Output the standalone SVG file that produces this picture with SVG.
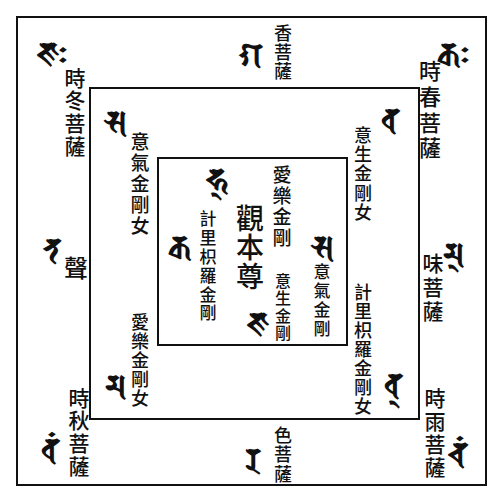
<svg xmlns="http://www.w3.org/2000/svg" width="504" height="499" viewBox="0 0 504 499">
<style>
.frame{fill:none;stroke:#111;stroke-width:2}
.k{font-family:"Noto Sans CJK TC","Noto Sans CJK JP",sans-serif;fill:#111;writing-mode:vertical-rl;text-anchor:start;font-weight:500}
.s{font-family:"Noto Sans","DejaVu Sans",sans-serif;fill:#111;text-anchor:middle;dominant-baseline:central;font-size:32px;font-weight:bold}
</style>
<rect width="504" height="499" fill="#fff"/>
<g id="frames">
<rect class="frame" x="17" y="17" width="469" height="468"/>
<rect class="frame" x="90" y="88" width="329" height="331"/>
<rect class="frame" x="158" y="158" width="189" height="187"/>
</g>
<g id="connectors"></g>
<g id="outer-top"><text class="s" x="251" y="53">𑖐</text><text class="k" font-size="18"><tspan x="283" y="24">香</tspan><tspan x="283" y="43">菩</tspan><tspan x="283" y="62">薩</tspan></text></g>
<g id="outer-tl"><text class="s" x="52" y="52">𑖕𑖾</text><text class="k" font-size="21"><tspan x="75" y="67.5">時</tspan><tspan x="75" y="90">冬</tspan><tspan x="75" y="113">菩</tspan><tspan x="75" y="136">薩</tspan></text></g>
<g id="outer-tr"><text class="s" x="453" y="52">𑖎𑖾</text><text class="k" font-size="22"><tspan x="430" y="60">時</tspan><tspan x="430" y="86">春</tspan><tspan x="430" y="112">菩</tspan><tspan x="430" y="137">薩</tspan></text></g>
<g id="outer-l"><text class="s" x="52" y="248">𑖝</text><text class="k" font-size="24"><tspan x="76" y="256">聲</tspan></text></g>
<g id="outer-r"><text class="s" x="453" y="252">𑖦𑖿</text><text class="k" font-size="21"><tspan x="433" y="252.5">味</tspan><tspan x="433" y="276.5">菩</tspan><tspan x="433" y="300.5">薩</tspan></text></g>
<g id="outer-bl"><text class="s" x="50" y="448">𑖪𑖽</text><text class="k" font-size="21"><tspan x="79" y="387.5">時</tspan><tspan x="79" y="410">秋</tspan><tspan x="79" y="433">菩</tspan><tspan x="79" y="456">薩</tspan></text></g>
<g id="outer-bottom"><text class="s" x="253" y="458">𑖨</text><text class="k" font-size="18"><tspan x="283" y="426">色</tspan><tspan x="283" y="445.5">菩</tspan><tspan x="283" y="465">薩</tspan></text></g>
<g id="outer-br"><text class="s" x="458" y="452">𑖓𑖽</text><text class="k" font-size="21"><tspan x="435" y="387.5">時</tspan><tspan x="435" y="410.5">雨</tspan><tspan x="435" y="433.5">菩</tspan><tspan x="435" y="456.5">薩</tspan></text></g>
<g id="mid-tl"><text class="s" x="115" y="120">𑖭</text><text class="k" font-size="19"><tspan x="140" y="132.5">意</tspan><tspan x="140" y="153.5">氣</tspan><tspan x="140" y="174.5">金</tspan><tspan x="140" y="195.5">剛</tspan><tspan x="140" y="216.5">女</tspan></text></g>
<g id="mid-tr"><text class="s" x="390" y="118">𑖪</text><text class="k" font-size="18"><tspan x="363" y="126">意</tspan><tspan x="363" y="145.3">生</tspan><tspan x="363" y="164.5">金</tspan><tspan x="363" y="183.8">剛</tspan><tspan x="363" y="203">女</tspan></text></g>
<g id="mid-bl"><text class="s" x="115" y="384">𑖦</text><text class="k" font-size="18"><tspan x="140" y="313">愛</tspan><tspan x="140" y="332">樂</tspan><tspan x="140" y="351">金</tspan><tspan x="140" y="370">剛</tspan><tspan x="140" y="389">女</tspan></text></g>
<g id="mid-br"><text class="s" x="393" y="383">𑖪𑖿</text><text class="k" font-size="18"><tspan x="363" y="283">計</tspan><tspan x="363" y="302">里</tspan><tspan x="363" y="321">枳</tspan><tspan x="363" y="340">羅</tspan><tspan x="363" y="359">金</tspan><tspan x="363" y="378">剛</tspan><tspan x="363" y="397">女</tspan></text></g>
<g id="center"><text class="s" x="217" y="178">𑖮𑖿</text><text class="s" x="258" y="322">𑖕</text><text class="k" font-size="28" font-weight="bold"><tspan x="250" y="204">觀</tspan><tspan x="250" y="233">本</tspan><tspan x="250" y="262">尊</tspan></text></g>
<g id="inner-tr"><text class="k" font-size="19"><tspan x="282" y="165.5">愛</tspan><tspan x="282" y="186.5">樂</tspan><tspan x="282" y="207.5">金</tspan><tspan x="282" y="228.5">剛</tspan></text></g>
<g id="inner-l"><text class="s" x="180" y="245">𑖎</text><text class="k" font-size="17"><tspan x="208" y="210.5">計</tspan><tspan x="208" y="229.3">里</tspan><tspan x="208" y="248.1">枳</tspan><tspan x="208" y="266.9">羅</tspan><tspan x="208" y="285.7">金</tspan><tspan x="208" y="304.5">剛</tspan></text></g>
<g id="inner-r"><text class="s" x="322" y="245">𑖭</text><text class="k" font-size="17"><tspan x="322" y="263.5">意</tspan><tspan x="322" y="282.5">氣</tspan><tspan x="322" y="301.5">金</tspan><tspan x="322" y="320.5">剛</tspan></text></g>
<g id="inner-b"><text class="k" font-size="16"><tspan x="283" y="273">意</tspan><tspan x="283" y="290.3">生</tspan><tspan x="283" y="307.6">金</tspan><tspan x="283" y="324.9">剛</tspan></text></g>
</svg>
